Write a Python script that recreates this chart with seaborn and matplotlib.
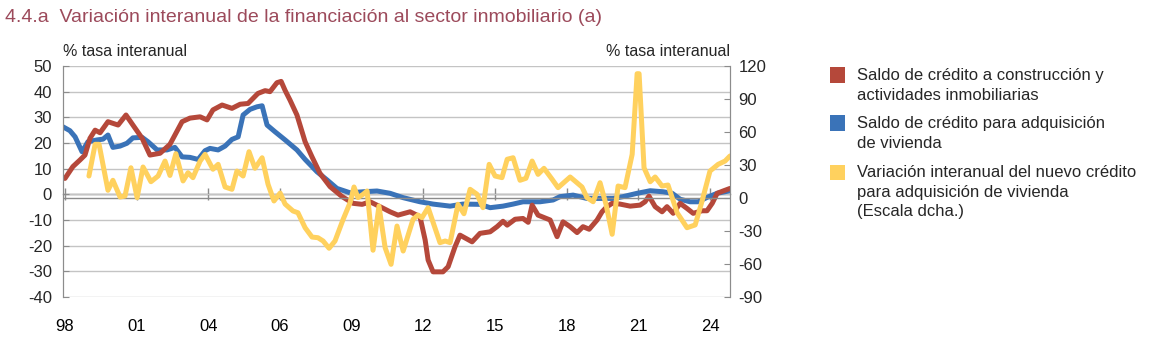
import matplotlib
matplotlib.use("Agg")
import matplotlib.pyplot as plt
import matplotlib.patches as mpatches
import numpy as np
import pandas as pd
import seaborn as sns

# ---------------------------
# datos (fecha en años decimales)
# ---------------------------

red_t = [1998.08, 1998.40, 1998.69, 1998.89, 1999.09, 1999.30, 1999.50, 1999.82,
         2000.23, 2000.55, 2000.83, 2001.20, 2001.52, 2001.93, 2002.33, 2002.82,
         2003.14, 2003.55, 2003.83, 2004.07, 2004.44, 2004.84, 2005.17, 2005.49,
         2005.89, 2006.18, 2006.38, 2006.66, 2006.83, 2006.99, 2007.19, 2007.47,
         2007.80, 2008.08, 2008.40, 2008.81, 2009.30, 2009.74, 2010.11, 2010.43,
         2010.83, 2011.24, 2011.56, 2012.05, 2012.45, 2012.66, 2012.78, 2012.98,
         2013.38, 2013.59, 2013.87, 2014.07, 2014.56, 2014.88, 2015.29, 2015.57,
         2015.81, 2015.98, 2016.30, 2016.62, 2016.83, 2016.99, 2017.23, 2017.72,
         2018.00, 2018.24, 2018.53, 2018.81, 2019.05, 2019.30, 2019.62, 2019.82,
         2020.02, 2020.23, 2020.55, 2020.96, 2021.36, 2021.56, 2021.72, 2021.97,
         2022.25, 2022.45, 2022.70, 2022.98, 2023.26, 2023.51, 2023.87, 2024.07,
         2024.28, 2024.48, 2024.72, 2025.00]
red_v = [6.2, 10.8, 13.4, 15.3, 21.8, 25.0, 24.0, 28.3,
         27.0, 30.9, 27.0, 21.9, 15.3, 16.0, 19.5, 28.3,
         29.7, 30.2, 29.0, 32.9, 34.8, 33.5, 35.1, 35.4,
         39.3, 40.4, 40.0, 43.5, 44.0, 40.5, 36.7, 30.9,
         20.5, 14.6, 8.2, 3.0, -0.9, -3.5, -3.9, -2.9,
         -4.8, -6.8, -8.1, -6.8, -8.7, -17.8, -25.6, -30.2,
         -30.2, -28.2, -20.4, -15.9, -18.5, -15.2, -14.6, -12.6,
         -10.5, -12.0, -9.7, -9.4, -10.9, -4.2, -8.1, -10.0,
         -16.5, -10.7, -12.6, -14.9, -12.6, -13.6, -10.0, -6.8,
         -4.8, -3.5, -3.8, -4.6, -4.2, -2.9, -0.7, -4.8,
         -6.8, -4.8, -7.4, -3.5, -5.5, -7.4, -6.4, -6.4,
         -3.5, 0.4, 1.3, 2.3]

blue_t = [1998.00, 1998.28, 1998.49, 1998.77, 1999.01, 1999.38, 1999.62, 1999.82,
          2000.02, 2000.31, 2000.59, 2000.83, 2001.20, 2001.44, 2001.81, 2002.21,
          2002.53, 2002.82, 2003.14, 2003.47, 2003.75, 2003.95, 2004.28, 2004.56,
          2004.84, 2005.09, 2005.29, 2005.57, 2005.85, 2006.06, 2006.26, 2006.58,
          2006.99, 2007.47, 2007.80, 2008.28, 2008.69, 2009.09, 2009.62, 2010.15,
          2010.71, 2011.24, 2011.77, 2012.45, 2012.98, 2013.67, 2014.19, 2014.88,
          2015.29, 2015.81, 2016.22, 2016.62, 2017.31, 2017.84, 2018.12, 2018.65,
          2019.21, 2019.74, 2020.27, 2020.67, 2021.24, 2021.77, 2022.29, 2022.66,
          2022.98, 2023.38, 2023.71, 2024.07, 2024.48, 2025.00]
blue_v = [26.3, 24.8, 22.4, 16.6, 20.5, 21.2, 21.5, 23.1,
          18.3, 18.8, 19.9, 22.0, 22.2, 20.5, 17.3, 17.3,
          18.3, 14.6, 14.4, 13.6, 17.0, 17.9, 17.3, 18.8,
          21.4, 22.4, 30.9, 33.1, 34.1, 34.5, 27.0, 24.4,
          21.2, 17.3, 13.6, 8.8, 5.6, 2.3, 0.6, 1.0,
          1.3, 0.4, -1.3, -2.9, -3.8, -4.6, -3.8, -3.9,
          -5.2, -4.6, -3.8, -2.9, -2.9, -2.2, -0.9, -0.3,
          -1.6, -1.6, -1.6, -0.9, 0.4, 1.4, 1.0, 0.4,
          -1.9, -2.9, -2.9, -1.2, 0.4, 1.4]

yellow_t = [1999.05, 1999.30, 1999.46, 1999.82, 2000.02, 2000.31, 2000.51, 2000.75,
            2001.00, 2001.24, 2001.56, 2001.85, 2002.13, 2002.33, 2002.57, 2002.86,
            2003.06, 2003.26, 2003.55, 2003.75, 2004.07, 2004.28, 2004.56, 2004.84,
            2005.04, 2005.29, 2005.53, 2005.77, 2006.06, 2006.30, 2006.54, 2006.79,
            2006.99, 2007.31, 2007.51, 2007.80, 2008.08, 2008.32, 2008.53, 2008.77,
            2009.01, 2009.34, 2009.62, 2009.78, 2009.94, 2010.15, 2010.31, 2010.55,
            2010.79, 2011.04, 2011.28, 2011.52, 2011.77, 2012.17, 2012.37, 2012.53,
            2012.78, 2013.26, 2013.47, 2013.67, 2013.99, 2014.23, 2014.48, 2014.76,
            2015.00, 2015.25, 2015.49, 2015.77, 2015.98, 2016.22, 2016.50, 2016.74,
            2016.99, 2017.23, 2017.47, 2017.80, 2018.04, 2018.53, 2019.01, 2019.21,
            2019.46, 2019.74, 2019.98, 2020.23, 2020.47, 2020.75, 2021.04, 2021.24,
            2021.32, 2021.52, 2021.77, 2021.97, 2022.25, 2022.49, 2022.86, 2023.26,
            2023.59, 2023.87, 2024.19, 2024.52, 2024.80, 2025.00]
yellow_v = [20.0, 48.8, 48.8, 7.0, 16.1, 0.9, 1.8, 27.5,
            0.3, 28.2, 14.8, 20.0, 33.6, 20.5, 40.3, 15.5,
            23.0, 18.5, 33.6, 39.7, 26.1, 30.6, 10.0, 7.9,
            24.5, 20.0, 42.1, 27.0, 36.6, 12.5, -2.7, 4.5,
            -5.5, -11.8, -13.4, -27.0, -35.5, -36.1, -39.1, -45.7,
            -39.1, -19.4, -4.3, 10.0, 0.3, 3.4, 6.4, -47.5,
            -7.3, -45.2, -60.3, -25.5, -48.2, -19.4, -15.5, -17.9,
            -8.8, -40.6, -39.1, -40.6, -5.7, -14.3, 7.9, 3.4,
            -8.8, 30.6, 20.0, 18.5, 35.2, 36.6, 16.1, 17.9,
            33.6, 21.5, 27.0, 17.0, 9.4, 19.1, 10.0, 0.3,
            -3.4, 13.9, -5.7, -33.0, 10.9, 9.4, 39.7, 113.0,
            113.0, 27.5, 14.8, 19.1, 10.9, 11.8, -13.4, -27.0,
            -24.5, -2.7, 24.5, 30.6, 33.6, 38.2]

tick_labels = ["98", "01", "04", "06", "09", "12", "15", "18", "21", "24"]
left_ticks = [50, 40, 30, 20, 10, 0, -10, -20, -30, -40]
right_ticks = [120, 90, 60, 30, 0, -30, -60, -90]

series_names = [
    "Saldo de crédito a construcción y\nactividades inmobiliarias",
    "Saldo de crédito para adquisición\nde vivienda",
    "Variación interanual del nuevo crédito\npara adquisición de vivienda\n(Escala dcha.)",
]

RED = "#B5483A"
BLUE = "#3A73B8"
YELLOW = "#FFD15E"
TITLE_COLOR = "#9C4A5B"
GRID = "#C4C4C4"
AXIS = "#8C8C8C"

W, H = 1167, 358

# ---------------------------
# estilo
# ---------------------------

sns.set_style("white")
plt.rcParams["font.family"] = ["Liberation Sans", "DejaVu Sans"]
plt.rcParams["font.size"] = 11

fig = plt.figure(figsize=(W / 100, H / 100), dpi=100)
ax = fig.add_axes([63 / W, 1 - 297 / H, 667 / W, 231 / H])
ax2 = ax.twinx()

df_red = pd.DataFrame({"t": red_t, "v": red_v})
df_blue = pd.DataFrame({"t": blue_t, "v": blue_v})
df_yel = pd.DataFrame({"t": yellow_t, "v": yellow_v})

lw = 3.6
sns.lineplot(data=df_blue, x="t", y="v", ax=ax, color=BLUE, linewidth=lw,
             sort=False, estimator=None)
sns.lineplot(data=df_red, x="t", y="v", ax=ax, color=RED, linewidth=lw,
             sort=False, estimator=None)
sns.lineplot(data=df_yel, x="t", y="v", ax=ax2, color=YELLOW, linewidth=lw,
             sort=False, estimator=None)

xmin, xmax = 1998.0, 2025.0
ymin, ymax = -40, 50
ax.set_xlim(xmin, xmax)
ax.set_ylim(ymin, ymax)
ax2.set_ylim(-90, 120)

# ejes y rejilla
ax.set_yticks(left_ticks)
ax.set_yticklabels([str(v) for v in left_ticks])
ax2.set_yticks(right_ticks)
ax2.set_yticklabels([str(v) for v in right_ticks])
ax.grid(axis="y", color=GRID, linewidth=1.0)
ax.set_axisbelow(True)

tick_pos = np.linspace(1998.08, 2024.19, 10)
ax.set_xticks(tick_pos)
ax.set_xticklabels(tick_labels)
ax.tick_params(axis="x", length=0, pad=16, labelsize=12, colors="black")
ax.tick_params(axis="y", direction="in", length=4, color=AXIS, pad=8,
               labelsize=12)
ax2.tick_params(axis="y", direction="in", length=4, color=AXIS, pad=6,
                labelsize=12)

for a in (ax, ax2):
    a.set_xlabel("")
    a.set_ylabel("")
    a.spines["top"].set_visible(False)
    a.spines["bottom"].set_visible(False)
    a.spines["left"].set_color(AXIS)
    a.spines["right"].set_color(AXIS)

ax2.axhline(0, color=AXIS, linewidth=1.0, zorder=0)

# eje horizontal en el cero con marcas
zero_loc = (0 - ymin) / (ymax - ymin)
sec = ax.secondary_xaxis(zero_loc)
sec.set_xticks(tick_pos)
sec.set_xticklabels([""] * len(tick_pos))
sec.tick_params(direction="inout", length=8, color=AXIS, width=1)
sec.spines["bottom"].set_color("#707070")
sec.spines["bottom"].set_linewidth(1.0)

# textos
fig.text(5 / W, 1 - 18 / H, "4.4.a  Variación interanual de la financiación al sector inmobiliario (a)",
         color=TITLE_COLOR, fontsize=14, va="center", ha="left")
fig.text(63 / W, 1 - 52 / H, "% tasa interanual", fontsize=11.5,
         va="center", ha="left")
fig.text(730 / W, 1 - 52 / H, "% tasa interanual", fontsize=11.5,
         va="center", ha="right")

# leyenda (cuadrado alineado con la primera línea de cada texto)
legend_rows = [75, 123, 172]
for name, color, yc in zip(series_names, (RED, BLUE, YELLOW), legend_rows):
    fig.patches.append(mpatches.Rectangle(
        (830 / W, 1 - (yc + 7.5) / H), 15 / W, 15 / H,
        transform=fig.transFigure, facecolor=color, edgecolor="none"))
    fig.text(857 / W, 1 - (yc - 7) / H, name, fontsize=12, va="top",
             ha="left", linespacing=1.38)

fig.savefig("out.png", dpi=100)
